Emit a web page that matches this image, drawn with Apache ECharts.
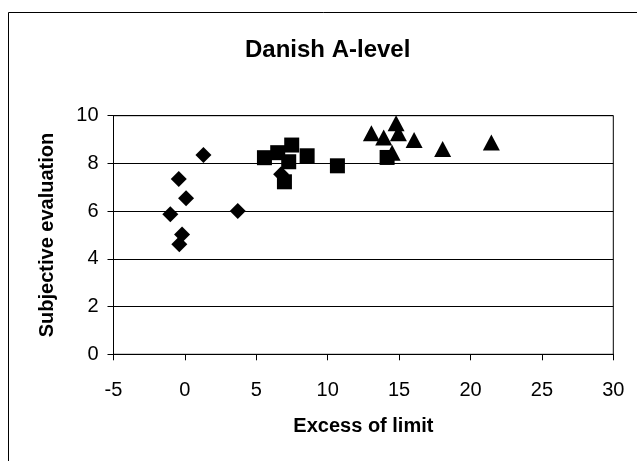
<!DOCTYPE html>
<html>
<head>
<meta charset="utf-8">
<script src="https://cdn.jsdelivr.net/npm/echarts@6/dist/echarts.min.js"></script>
<style>
  html, body { margin: 0; padding: 0; background: #fff; }
  #chart { width: 637px; height: 461px; }
</style>
</head>
<body>
<div id="chart"></div>
<script>
// Data
const diamondX = [1.3, -0.43, 0.08, -1.02, 3.7, -0.2, -0.39, 6.74];
const diamondY = [8.35, 7.35, 6.54, 5.87, 6.01, 5.02, 4.61, 7.55];
const squareX = [5.57, 6.5, 7.48, 7.27, 8.56, 6.97, 10.68, 14.16];
const squareY = [8.24, 8.45, 8.77, 8.07, 8.32, 7.23, 7.9, 8.25];
const triangleX = [13.06, 13.92, 14.79, 14.95, 16.05, 18.05, 21.46, 14.51];
const triangleY = [9.26, 9.09, 9.68, 9.26, 8.98, 8.6, 8.88, 8.45];

const xTicks = [-5, 0, 5, 10, 15, 20, 25, 30];
const yTicks = [0, 2, 4, 6, 8, 10];

const font = '"Liberation Sans", Arial, sans-serif';

function pairs(xs, ys) {
  return xs.map((x, i) => [x, ys[i]]);
}

const chart = echarts.init(document.getElementById('chart'));

const option = {
  animation: false,
  backgroundColor: '#fff',
  title: {
    text: 'Danish A-level',
    left: 240,
    top: 33,
    textStyle: { fontFamily: font, fontSize: 24, fontWeight: 'bold', color: '#000' }
  },
  graphic: [
    {
      type: 'rect',
      shape: { x: 8.5, y: 12.5, width: 700, height: 500 },
      style: { fill: 'none', stroke: '#000', lineWidth: 1 },
      silent: true
    }
  ],
  grid: {
    left: 113.5,
    right: 23.7,
    top: 115.7,
    bottom: 106.7,
    show: true,
    borderColor: '#000',
    borderWidth: 1
  },
  xAxis: {
    type: 'value',
    min: xTicks[0],
    max: xTicks[xTicks.length - 1],
    interval: 5,
    name: 'Excess of limit',
    nameLocation: 'middle',
    nameGap: 62,
    nameTextStyle: { fontFamily: font, fontSize: 20, fontWeight: 'bold', color: '#000', verticalAlign: 'top' },
    axisLine: { show: true, onZero: false, lineStyle: { color: '#000', width: 1 } },
    axisTick: { show: true, length: 6, lineStyle: { color: '#000' } },
    axisLabel: { fontFamily: font, fontSize: 20, color: '#000', margin: 26 },
    splitLine: { show: false }
  },
  yAxis: {
    type: 'value',
    min: yTicks[0],
    max: yTicks[yTicks.length - 1],
    interval: 2,
    name: 'Subjective evaluation',
    nameLocation: 'middle',
    nameGap: 56,
    nameTextStyle: { fontFamily: font, fontSize: 20, fontWeight: 'bold', color: '#000' },
    axisLine: { show: true, onZero: false, lineStyle: { color: '#000', width: 1 } },
    axisTick: { show: true, length: 6, inside: false, lineStyle: { color: '#000' } },
    axisLabel: { fontFamily: font, fontSize: 20, color: '#000', margin: 15 },
    splitLine: { show: true, lineStyle: { color: '#000', width: 1 } }
  },
  series: [
    {
      name: 'Diamonds',
      type: 'scatter',
      symbol: 'diamond',
      symbolSize: [16, 16],
      itemStyle: { color: '#000', opacity: 1 },
      data: pairs(diamondX, diamondY)
    },
    {
      name: 'Squares',
      type: 'scatter',
      symbol: 'rect',
      symbolSize: [15, 15],
      itemStyle: { color: '#000', opacity: 1 },
      data: pairs(squareX, squareY)
    },
    {
      name: 'Triangles',
      type: 'scatter',
      symbol: 'triangle',
      symbolSize: [17, 16],
      itemStyle: { color: '#000', opacity: 1 },
      data: pairs(triangleX, triangleY)
    }
  ]
};

chart.setOption(option);
</script>
</body>
</html>
